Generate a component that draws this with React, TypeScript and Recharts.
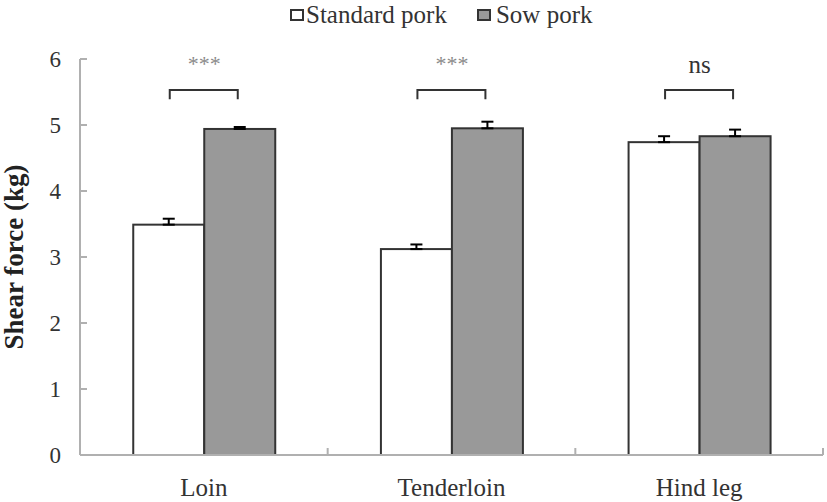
import React from "react";
import { BarChart, Bar, XAxis, YAxis, ErrorBar } from "recharts";

const categories = ["Loin", "Tenderloin", "Hind leg"];
const standardValues = [3.49, 3.12, 4.74];
const standardErrors = [0.09, 0.07, 0.09];
const sowValues = [4.94, 4.95, 4.83];
const sowErrors = [0.03, 0.1, 0.1];
const sigLabels = ["***", "***", "ns"];
const yTicks = [0, 1, 2, 3, 4, 5, 6];

// significance bracket level and leg length (in kg units)
const BRACKET_LEVEL = 5.53;
const BRACKET_LEG = 0.14;

const FONT = '"Liberation Serif", "Times New Roman", serif';
const AXIS_COLOR = "#b0b0b0";
const BAR_STROKE = "#333333";
const SOW_FILL = "#999999";

const data = categories.map((name, i) => ({
  name,
  standard: standardValues[i],
  sow: sowValues[i],
  standardErr: [0, standardErrors[i]],
  sowErr: [0, sowErrors[i]],
  sig: sigLabels[i],
}));

// sow bar shape also draws the bracket + significance text for its category
const SowBarShape = (props: any) => {
  const { x, y, width, height, payload } = props;
  const base = y + height;
  const ppu = height / payload.sow;
  const by = base - BRACKET_LEVEL * ppu;
  const legY = by + BRACKET_LEG * ppu;
  const left = x - width / 2 + 1;
  const right = x + width / 2 - 2;
  const isStars = payload.sig !== "ns";
  return (
    <g>
      <rect
        x={x}
        y={y}
        width={width}
        height={height}
        fill={SOW_FILL}
        stroke={BAR_STROKE}
        strokeWidth={2}
      />
      <path
        d={`M${left},${legY} L${left},${by} L${right},${by} L${right},${legY}`}
        fill="none"
        stroke={BAR_STROKE}
        strokeWidth={2}
      />
      <text
        x={x}
        y={isStars ? by - 19 : by - 17}
        textAnchor="middle"
        style={{ fontFamily: FONT }}
        fontSize={isStars ? 22 : 25}
        fill={isStars ? "#8a8a8a" : "#333"}
      >
        {payload.sig}
      </text>
    </g>
  );
};

const StandardBarShape = (props: any) => {
  const { x, y, width, height } = props;
  return (
    <rect
      x={x}
      y={y}
      width={width}
      height={height}
      fill="#ffffff"
      stroke={BAR_STROKE}
      strokeWidth={2}
    />
  );
};

const CategoryTick = (props: any) => {
  const { x, y, payload, index } = props;
  const axisY = y;
  const off = payload.offset || 0;
  const last = index === categories.length - 1;
  return (
    <g>
      <line x1={x - off} y1={axisY} x2={x - off} y2={axisY - 7} stroke={AXIS_COLOR} strokeWidth={2} />
      {last && (
        <line x1={x + off} y1={axisY} x2={x + off} y2={axisY - 7} stroke={AXIS_COLOR} strokeWidth={2} />
      )}
      <text
        x={x}
        y={axisY + 41}
        textAnchor="middle"
        style={{ fontFamily: FONT }}
        fontSize={25}
        fill="#333"
      >
        {payload.value}
      </text>
    </g>
  );
};

const YTick = (props: any) => {
  const { x, y, payload } = props;
  return (
    <text
      x={x}
      y={y}
      textAnchor="end"
      dominantBaseline="central"
      style={{ fontFamily: FONT }}
      fontSize={23}
      fill="#333"
    >
      {payload.value}
    </text>
  );
};

const YLabel = (props: any) => {
  const vb = props.viewBox || {};
  const cx = (vb.x || 0) + 14;
  const cy = (vb.y || 0) + (vb.height || 0) / 2;
  return (
    <text
      x={cx}
      y={cy}
      transform={`rotate(-90, ${cx}, ${cy})`}
      textAnchor="middle"
      dominantBaseline="central"
      style={{ fontFamily: FONT }}
      fontWeight="bold"
      fontSize={27}
      fill="#222"
    >
      Shear force (kg)
    </text>
  );
};

const LegendSquare = ({ fill }: { fill: string }) => (
  <svg width={14} height={12} style={{ display: "block" }}>
    <rect x={1} y={1} width={12} height={10} fill={fill} stroke={BAR_STROKE} strokeWidth={2} />
  </svg>
);

export default function App() {
  return (
    <div
      style={{
        position: "absolute",
        left: 0,
        top: 0,
        width: 827,
        height: 502,
        background: "#fff",
        fontFamily: FONT,
      }}
    >
      <div
        style={{
          position: "absolute",
          left: 290,
          top: 0,
          display: "flex",
          alignItems: "center",
          fontSize: 25,
          color: "#333",
          lineHeight: "29px",
        }}
      >
        <LegendSquare fill="#ffffff" />
        <span style={{ marginLeft: 2 }}>Standard pork</span>
        <span style={{ width: 30 }} />
        <LegendSquare fill={SOW_FILL} />
        <span style={{ marginLeft: 5 }}>Sow pork</span>
      </div>
      <BarChart
        width={827}
        height={502}
        data={data}
        margin={{ top: 59, right: 4, bottom: 0, left: 0 }}
        barCategoryGap="21.5%"
        barGap={0}
      >
        <XAxis
          dataKey="name"
          height={47}
          stroke={AXIS_COLOR}
          strokeWidth={2}
          tickLine={false}
          tickSize={0}
          tickMargin={0}
          tick={<CategoryTick />}
          interval={0}
        />
        <YAxis
          domain={[0, 6]}
          ticks={yTicks}
          width={80}
          stroke={AXIS_COLOR}
          strokeWidth={2}
          tickSize={-7}
          tickMargin={26}
          tick={<YTick />}
          label={<YLabel />}
          interval={0}
        />
        <Bar dataKey="standard" shape={<StandardBarShape />} isAnimationActive={false}>
          <ErrorBar dataKey="standardErr" width={6} stroke="#000" strokeWidth={2} />
        </Bar>
        <Bar dataKey="sow" shape={<SowBarShape />} isAnimationActive={false}>
          <ErrorBar dataKey="sowErr" width={6} stroke="#000" strokeWidth={2} />
        </Bar>
      </BarChart>
    </div>
  );
}
